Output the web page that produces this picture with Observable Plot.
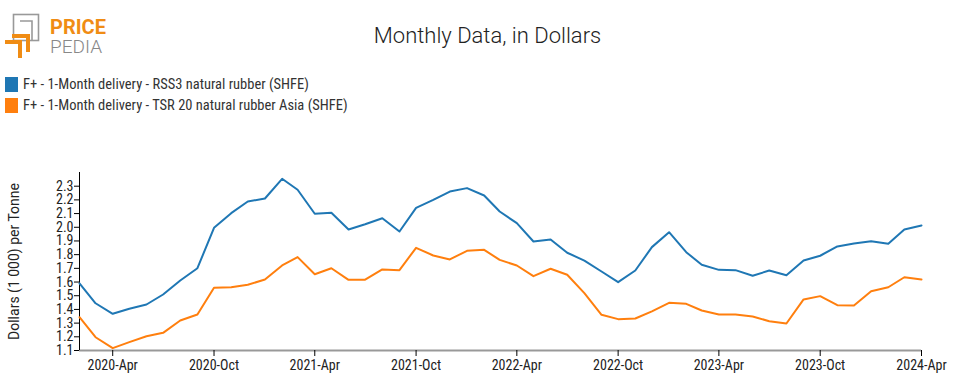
<!DOCTYPE html>
<html>
<head>
<meta charset="utf-8">
<script src="https://cdn.jsdelivr.net/npm/d3@7"></script>
<script src="https://cdn.jsdelivr.net/npm/@observablehq/plot@0.6"></script>
<style>
  html, body { margin: 0; padding: 0; background: #fff; }
  body { width: 960px; height: 392px; position: relative; overflow: hidden; font-family: "Roboto Condensed", "Liberation Sans Narrow", Roboto, sans-serif; }
  #logo { position: absolute; left: 0; top: 0; }
  #title { position: absolute; left: 0; width: 975px; top: 23px; text-align: center; font-family: Roboto, sans-serif; font-weight: 300; font-size: 22px; color: #222; }
  .leg { position: absolute; left: 5px; font-size: 14.5px; color: #333; height: 16px; line-height: 16px; }
  .leg span.sw { position: absolute; left: 0; top: 0; width: 13px; height: 15px; }
  .leg span.tx { position: absolute; left: 18px; top: 0; white-space: nowrap; }
  #chart { position: absolute; left: 0; top: 150px; }
</style>
</head>
<body>
<svg id="logo" width="130" height="65">
  <rect x="13.5" y="14.5" width="25" height="26" fill="none" stroke="#999" stroke-width="1.6"/>
  <path d="M20 21 H32 V40" fill="none" stroke="#999" stroke-width="1.6"/>
  <path d="M5 42 H20 V58" fill="none" stroke="#f08c14" stroke-width="4"/>
  <path d="M12 36 H28 V52" fill="none" stroke="#f08c14" stroke-width="4"/>
  <text x="50" y="34" font-family="Roboto, sans-serif" font-weight="700" font-size="20" fill="#f08c14">PRICE</text>
  <text x="50" y="53" font-family="Roboto, sans-serif" font-weight="300" font-size="19" fill="#888">PEDIA</text>
</svg>
<div id="title">Monthly Data, in Dollars</div>
<div id="legend"></div>
<div id="chart"></div>
<script>
const seriesNames = [
  "F+ - 1-Month delivery - RSS3 natural rubber (SHFE)",
  "F+ - 1-Month delivery - TSR 20 natural rubber Asia (SHFE)"
];
const seriesColors = ["#1f77b4", "#ff7f0e"];
const months = [
  "2020-02","2020-03","2020-04","2020-05","2020-06","2020-07","2020-08","2020-09","2020-10","2020-11","2020-12",
  "2021-01","2021-02","2021-03","2021-04","2021-05","2021-06","2021-07","2021-08","2021-09","2021-10","2021-11","2021-12",
  "2022-01","2022-02","2022-03","2022-04","2022-05","2022-06","2022-07","2022-08","2022-09","2022-10","2022-11","2022-12",
  "2023-01","2023-02","2023-03","2023-04","2023-05","2023-06","2023-07","2023-08","2023-09","2023-10","2023-11","2023-12",
  "2024-01","2024-02","2024-03","2024-04"
];
const rss3 = [1.59,1.445,1.368,1.405,1.436,1.509,1.611,1.701,1.996,2.103,2.188,
  2.21,2.354,2.274,2.099,2.106,1.984,2.022,2.066,1.969,2.142,2.2,2.261,
  2.286,2.232,2.115,2.03,1.896,1.911,1.814,1.757,1.677,1.599,1.684,1.855,
  1.964,1.818,1.726,1.689,1.687,1.646,1.684,1.65,1.757,1.792,1.86,1.882,
  1.898,1.879,1.984,2.013];
const tsr20 = [1.343,1.197,1.117,1.161,1.204,1.229,1.319,1.363,1.558,1.562,1.58,
  1.619,1.721,1.782,1.657,1.701,1.616,1.617,1.692,1.687,1.85,1.794,1.765,
  1.828,1.835,1.762,1.721,1.643,1.697,1.653,1.519,1.361,1.329,1.334,1.386,
  1.448,1.441,1.392,1.363,1.363,1.348,1.314,1.297,1.473,1.497,1.431,1.429,
  1.533,1.562,1.635,1.619];
const xTicks = ["2020-04","2020-10","2021-04","2021-10","2022-04","2022-10","2023-04","2023-10","2024-04"];
const yTicks = [1.1,1.2,1.3,1.4,1.5,1.6,1.7,1.8,1.9,2.0,2.1,2.2,2.3];
const yLabel = "Dollars (1 000) per Tonne";
const titleText = "Monthly Data, in Dollars";

// legend
const leg = document.getElementById("legend");
seriesNames.forEach((name, i) => {
  const d = document.createElement("div");
  d.className = "leg";
  d.style.top = (77 + i * 21) + "px";
  d.innerHTML = `<span class="sw" style="background:${seriesColors[i]}"></span><span class="tx"></span>`;
  d.querySelector(".tx").textContent = name;
  leg.appendChild(d);
});

const parse = s => new Date(s + "-01T00:00:00Z");
const data = [];
months.forEach((m, i) => {
  data.push({date: parse(m), value: rss3[i], series: seriesNames[0]});
  data.push({date: parse(m), value: tsr20[i], series: seriesNames[1]});
});
const x0 = parse(months[0]), x1 = parse(months[months.length - 1]);

const chart = Plot.plot({
  width: 960,
  height: 242,
  marginLeft: 79,
  marginRight: 39,
  marginTop: 22,
  marginBottom: 42,
  x: {type: "utc", domain: [x0, x1]},
  y: {domain: [1.1, 2.4]},
  color: {domain: seriesNames, range: seriesColors},
  style: {fontFamily: '"Roboto Condensed", "Liberation Sans Narrow", Roboto, sans-serif', fontSize: "14px", color: "#222", background: "transparent"},
  marks: [
    Plot.ruleY([1.1], {stroke: "#999", strokeWidth: 2}),
    Plot.axisX({ticks: xTicks.map(parse), tickFormat: d3.utcFormat("%Y-%b"), tickSize: 6, tickPadding: 4, label: null, stroke: "#000", strokeOpacity: 1}),
    Plot.axisY({ticks: yTicks, tickFormat: d => d.toFixed(1), tickSize: 5, tickPadding: 1, label: null, stroke: "#000", strokeOpacity: 1}),
    Plot.axisY({ticks: [], tickSize: 0, label: yLabel, labelAnchor: "center", labelArrow: "none", labelOffset: 70, fontSize: 14, fontFamily: "Roboto, sans-serif"}),
    Plot.ruleX([x0], {stroke: "#000", strokeWidth: 1}),
    Plot.line(data, {x: "date", y: "value", stroke: "series", strokeWidth: 2})
  ]
});
document.getElementById("chart").appendChild(chart);
</script>
</body>
</html>
